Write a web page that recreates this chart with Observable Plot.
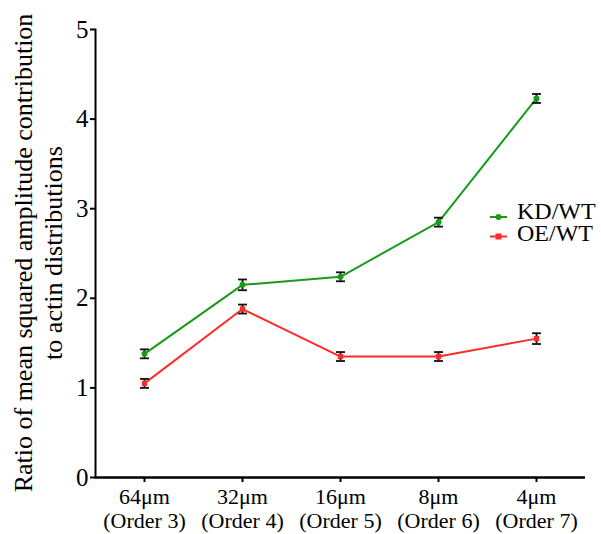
<!DOCTYPE html>
<html><head><meta charset="utf-8">
<script src="https://cdn.jsdelivr.net/npm/d3@7"></script>
<script src="https://cdn.jsdelivr.net/npm/@observablehq/plot@0.6"></script>
<style>body{margin:0;background:#fff;} #chart{position:relative;width:601px;height:534px;}</style>
</head><body><div id="chart"></div>
<script>
const scales = ["64μm", "32μm", "16μm", "8μm", "4μm"];
const orders = ["(Order 3)", "(Order 4)", "(Order 5)", "(Order 6)", "(Order 7)"];
const kdValues = [1.38, 2.15, 2.24, 2.85, 4.23];
const kdErrors = [0.05, 0.06, 0.05, 0.05, 0.05];
const oeValues = [1.05, 1.88, 1.35, 1.35, 1.55];
const oeErrors = [0.05, 0.05, 0.05, 0.05, 0.06];
const seriesNames = ["KD/WT", "OE/WT"];
const seriesColors = ["#1a9a1a", "#ff2b2b"];
const yTicks = [0, 1, 2, 3, 4, 5];
const yTitle = ["Ratio of mean squared amplitude contribution", "to actin distributions"];

const data = [];
scales.forEach((s, i) => {
  data.push({x: s, y: kdValues[i], e: kdErrors[i], series: seriesNames[0]});
  data.push({x: s, y: oeValues[i], e: oeErrors[i], series: seriesNames[1]});
});
const labelOf = Object.fromEntries(scales.map((s, i) => [s, s + "\n" + orders[i]]));

const capSymbol = {draw(ctx, size) { const r = Math.sqrt(size / Math.PI); ctx.moveTo(-r, 0); ctx.lineTo(r, 0); }};
const serif = "'Liberation Serif', 'Times New Roman', serif";

const plot = Plot.plot({
  width: 601, height: 534,
  marginLeft: 95, marginRight: 16, marginTop: 29, marginBottom: 57,
  style: {fontFamily: serif, color: "#000", background: "#fff"},
  x: {type: "point", domain: scales, padding: 0.5},
  y: {domain: [0, 5]},
  color: {domain: seriesNames, range: seriesColors},
  marks: [
    Plot.axisY({ticks: yTicks, tickFormat: d => String(d), tickSize: 5, tickPadding: 2, fontSize: 25, label: null, strokeWidth: 2}),
    Plot.axisX({tickFormat: d => labelOf[d], tickSize: 5, tickPadding: 4, fontSize: 22, lineHeight: 1.1, label: null, strokeWidth: 2}),
    Plot.frame({anchor: "left", strokeWidth: 2}),
    Plot.ruleY([0], {strokeWidth: 2.5}),
    Plot.line(data, {x: "x", y: "y", z: "series", stroke: "series", strokeWidth: 2}),
    Plot.ruleX(data, {x: "x", y1: d => d.y - d.e, y2: d => d.y + d.e, stroke: "#111", strokeWidth: 1.8}),
    Plot.dot(data, {x: "x", y: d => d.y - d.e, symbol: capSymbol, r: 4.5, stroke: "#111", strokeWidth: 1.8}),
    Plot.dot(data, {x: "x", y: d => d.y + d.e, symbol: capSymbol, r: 4.5, stroke: "#111", strokeWidth: 1.8}),
    Plot.dot(data.filter(d => d.series === seriesNames[0]), {x: "x", y: "y", r: 3, fill: "series"}),
    Plot.dot(data.filter(d => d.series === seriesNames[1]), {x: "x", y: "y", symbol: "square", r: 3, fill: "series"})
  ]
});
document.getElementById("chart").appendChild(plot);

const svg = d3.select(plot);
// y-axis title (two lines, rotated)
const t = svg.append("text")
  .attr("transform", "translate(0,253) rotate(-90)")
  .style("text-anchor", "middle")
  .style("font-size", "26px")
  .style("font-family", serif)
  .attr("fill", "#000");
t.append("tspan").attr("x", 0).attr("y", 32).text(yTitle[0]);
t.append("tspan").attr("x", 0).attr("y", 62).text(yTitle[1]);

// legend
const lg = svg.append("g").style("font-family", serif).style("font-size", "24px").style("text-anchor", "start");
seriesNames.forEach((name, i) => {
  const ly = 217 + i * 19.5;
  const ty = 219 + i * 21.5;
  lg.append("line").attr("x1", 490).attr("x2", 507).attr("y1", ly).attr("y2", ly).attr("stroke", seriesColors[i]).attr("stroke-width", 2);
  if (i === 0) lg.append("circle").attr("cx", 498.5).attr("cy", ly).attr("r", 3).attr("fill", seriesColors[i]);
  else lg.append("rect").attr("x", 495.5).attr("y", ly - 3).attr("width", 6).attr("height", 6).attr("fill", seriesColors[i]);
  lg.append("text").attr("x", 517).attr("y", ty).attr("fill", "#000").style("text-anchor", "start").text(name);
});
</script></body></html>
